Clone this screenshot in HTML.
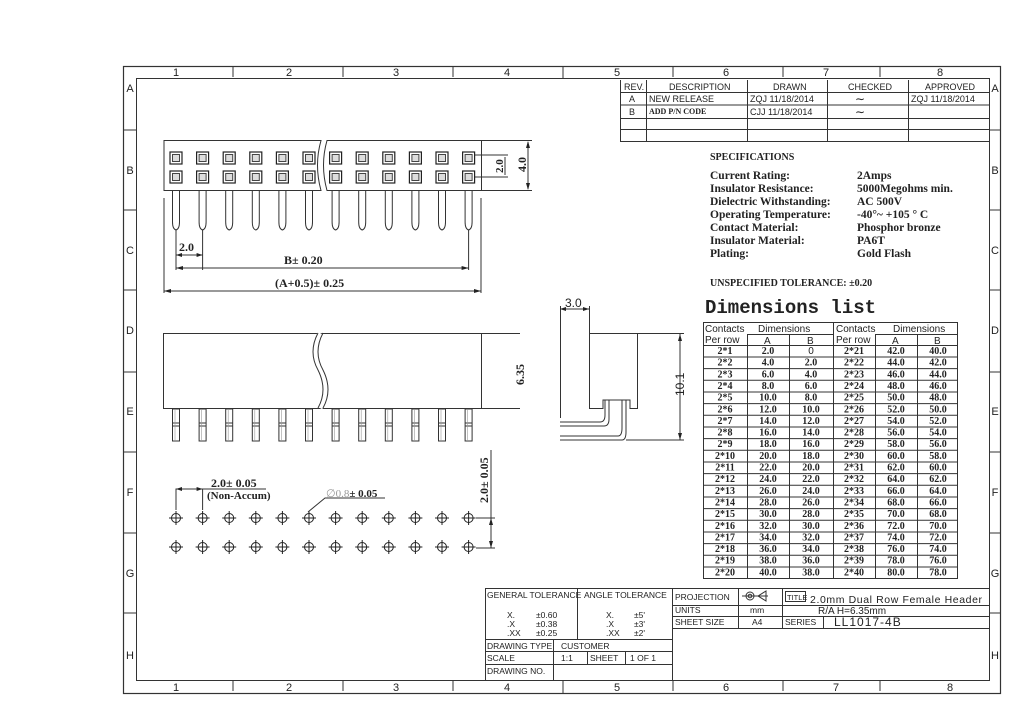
<!DOCTYPE html>
<html><head><meta charset="utf-8"><style>
html,body{margin:0;padding:0;background:#fff}
svg{display:block}
.s{font-family:"Liberation Sans",sans-serif}
.b{font-family:"Liberation Serif",serif;font-weight:bold}
.m{font-family:"Liberation Mono",monospace}
</style></head><body>
<svg width="1024" height="723" viewBox="0 0 1024 723" xmlns="http://www.w3.org/2000/svg">
<defs>
<g id="sq"><rect x="-6" y="-6" width="12" height="12" fill="#fff" stroke="#222" stroke-width="1.2"/><rect x="-3.5" y="-3.5" width="7" height="7" fill="#ddd" stroke="#444" stroke-width="1"/></g>
<path id="pin" d="M-3.5 0 V31 Q-3.5 38 0 39 Q3.5 38 3.5 31 V0" fill="none" stroke="#333" stroke-width="1"/>
<g id="pn"><rect x="-3.5" y="0" width="7" height="32" fill="#fff" stroke="#333" stroke-width="1"/><line x1="-3.5" y1="14" x2="3.5" y2="14" stroke="#333"/><line x1="-3.5" y1="17" x2="3.5" y2="17" stroke="#333"/><line x1="-1" y1="0" x2="-1" y2="32" stroke="#999" stroke-width=".6"/></g>
<g id="ho"><circle r="4.5" fill="none" stroke="#222" stroke-width="1"/><line x1="-7" y1="0" x2="7" y2="0" stroke="#222"/><line x1="0" y1="-7" x2="0" y2="7" stroke="#222"/></g>
</defs>
<g fill="none" stroke="#333" stroke-width="1">
<rect x="123.5" y="66.5" width="877" height="627" stroke-width="1.2"/>
<rect x="136.5" y="78.5" width="853" height="602"/>
<path d="M233 67v10M343 67v10M453 67v10M563 67v12M673 67v10M783 67v10M880 67v10M233 681v10M343 681v10M453 681v10M563 681v12M673 681v10M783 681v10M880 681v10"/>
<path d="M124 130h12M124 210h12M124 290h12M124 372h12M124 452h12M124 533h12M124 613h12M989 130h11M989 210h11M989 290h11M989 372h11M989 452h11M989 533h11M989 613h11"/>
</g>
<g class="s" font-size="11" fill="#222" text-anchor="middle">
<text x="176" y="76">1</text><text x="289" y="76">2</text><text x="396" y="76">3</text><text x="507" y="76">4</text><text x="617" y="76">5</text><text x="726" y="76">6</text><text x="826" y="76">7</text><text x="940" y="76">8</text>
<text x="176" y="691">1</text><text x="289" y="691">2</text><text x="396" y="691">3</text><text x="507" y="691">4</text><text x="617" y="691">5</text><text x="726" y="691">6</text><text x="836" y="691">7</text><text x="950" y="691">8</text>
<text x="130" y="92">A</text><text x="130" y="174">B</text><text x="130" y="254">C</text><text x="130" y="334">D</text><text x="130" y="415">E</text><text x="130" y="496">F</text><text x="130" y="577">G</text><text x="130" y="659">H</text>
<text x="995" y="92">A</text><text x="995" y="174">B</text><text x="995" y="254">C</text><text x="995" y="334">D</text><text x="995" y="415">E</text><text x="995" y="496">F</text><text x="995" y="577">G</text><text x="995" y="659">H</text>
</g>

<g stroke="#333" stroke-width="1" fill="none">
<path d="M164 140.5H321 Q314 165 321 190.5 H164Z" fill="#fff"/>
<path d="M327 140.5H481.5V190.5H327 Q320 165 327 140.5Z" fill="#fff"/>
<path d="M481 140.5H532M481 190.5H532M528 142v47M468 155h40M468 177h40M505 157v18"/>
<path d="M164 198v95M481 198v95M176 230v40M202.6 230v40M468.6 230v40"/>
<path d="M176 255h26.6M176 268h292.6M164 291h317"/>
</g>
<g fill="#222"><path d="M528 141l-2 7h4zM528 190l-2-7h4zM176 255l6-2v4zM202.6 255l-6-2v4zM176 268l7-2v4zM468.6 268l-7-2v4zM164 291l7-2v4zM481 291l-7-2v4z"/></g>
<g>
<use href="#sq" x="176" y="158"/><use href="#sq" x="202.6" y="158"/><use href="#sq" x="229.2" y="158"/><use href="#sq" x="255.8" y="158"/><use href="#sq" x="282.4" y="158"/><use href="#sq" x="309" y="158"/><use href="#sq" x="335.6" y="158"/><use href="#sq" x="362.2" y="158"/><use href="#sq" x="388.8" y="158"/><use href="#sq" x="415.4" y="158"/><use href="#sq" x="442" y="158"/><use href="#sq" x="468.6" y="158"/>
<use href="#sq" x="176" y="177"/><use href="#sq" x="202.6" y="177"/><use href="#sq" x="229.2" y="177"/><use href="#sq" x="255.8" y="177"/><use href="#sq" x="282.4" y="177"/><use href="#sq" x="309" y="177"/><use href="#sq" x="335.6" y="177"/><use href="#sq" x="362.2" y="177"/><use href="#sq" x="388.8" y="177"/><use href="#sq" x="415.4" y="177"/><use href="#sq" x="442" y="177"/><use href="#sq" x="468.6" y="177"/>
<use href="#pin" x="176" y="191"/><use href="#pin" x="202.6" y="191"/><use href="#pin" x="229.2" y="191"/><use href="#pin" x="255.8" y="191"/><use href="#pin" x="282.4" y="191"/><use href="#pin" x="309" y="191"/><use href="#pin" x="335.6" y="191"/><use href="#pin" x="362.2" y="191"/><use href="#pin" x="388.8" y="191"/><use href="#pin" x="415.4" y="191"/><use href="#pin" x="442" y="191"/><use href="#pin" x="468.6" y="191"/>
</g>
<g class="b" font-size="12" fill="#222">
<text x="179" y="251">2.0</text>
<text x="284" y="264">B± 0.20</text>
<text x="275" y="287">(A+0.5)± 0.25</text>
<text transform="translate(503,173) rotate(-90)" font-size="11">2.0</text>
<text transform="translate(526,172) rotate(-90)">4.0</text>
</g>

<g stroke="#333" stroke-width="1" fill="#fff">
<rect x="163.5" y="333.5" width="318" height="75"/>
<path d="M320 333 Q310 352 320 370 Q330 390 320 408" stroke="#fff" stroke-width="5"/>
<path d="M318 333 Q308 352 318 370 Q328 390 318 408M323 333 Q313 352 323 370 Q333 390 323 408" fill="none"/>
<path d="M481 333.5H520M481 408.5H520" fill="none"/>
<use href="#pn" x="176" y="409"/><use href="#pn" x="202.6" y="409"/><use href="#pn" x="229.2" y="409"/><use href="#pn" x="255.8" y="409"/><use href="#pn" x="282.4" y="409"/><use href="#pn" x="309" y="409"/><use href="#pn" x="335.6" y="409"/><use href="#pn" x="362.2" y="409"/><use href="#pn" x="388.8" y="409"/><use href="#pn" x="415.4" y="409"/><use href="#pn" x="442" y="409"/><use href="#pn" x="468.6" y="409"/>
</g>
<text class="b" font-size="12" fill="#222" transform="translate(524,385) rotate(-90)">6.35</text>

<g>
<use href="#ho" x="176" y="518"/><use href="#ho" x="202.6" y="518"/><use href="#ho" x="229.2" y="518"/><use href="#ho" x="255.8" y="518"/><use href="#ho" x="282.4" y="518"/><use href="#ho" x="309" y="518"/><use href="#ho" x="335.6" y="518"/><use href="#ho" x="362.2" y="518"/><use href="#ho" x="388.8" y="518"/><use href="#ho" x="415.4" y="518"/><use href="#ho" x="442" y="518"/><use href="#ho" x="468.6" y="518"/>
<use href="#ho" x="176" y="547"/><use href="#ho" x="202.6" y="547"/><use href="#ho" x="229.2" y="547"/><use href="#ho" x="255.8" y="547"/><use href="#ho" x="282.4" y="547"/><use href="#ho" x="309" y="547"/><use href="#ho" x="335.6" y="547"/><use href="#ho" x="362.2" y="547"/><use href="#ho" x="388.8" y="547"/><use href="#ho" x="415.4" y="547"/><use href="#ho" x="442" y="547"/><use href="#ho" x="468.6" y="547"/>
</g>
<g stroke="#333" stroke-width="1" fill="none">
<path d="M176 510V489H266M202.6 510V489M476 518H495M476 548H495M491 450V548M308 512L325 498H385"/>
</g>
<g fill="#222"><path d="M176 489l6-2v4zM202.6 489l-6-2v4zM491 518l-2 7h4zM491 548l-2-7h4z"/></g>
<g class="b" font-size="12" fill="#222">
<text x="211" y="487">2.0± 0.05</text>
<text x="207" y="499" font-size="11">(Non-Accum)</text>
<text x="326" y="497" font-size="11"><tspan fill="#999" font-weight="normal">∅0.8</tspan>± 0.05</text>
<text transform="translate(488,503) rotate(-90)">2.0± 0.05</text>
</g>

<g stroke="#333" stroke-width="1" fill="none">
<path d="M560.5 306V418M589.5 306V333M560 309H589"/>
<path d="M589.5 333.5H637.5V408.5H630V400H603V408.5H589.5Z"/>
<path d="M637 333.5H684M560 422H600Q605 422 605 415V400M560 426H604Q609 426 609 419V400M560 436H618Q622 436 622 428V400M560 440H622Q626 440 626 432V400M626 440H684M680 334V440"/>
</g>
<g fill="#222"><path d="M560 309l6-2v4zM589 309l-6-2v4zM680 334l-2 7h4zM680 440l-2-7h4z"/></g>
<text class="s" x="565" y="307" font-size="12" fill="#222">3.0</text>
<text class="s" font-size="12" fill="#222" transform="translate(684,396) rotate(-90)">10.1</text>

<g stroke="#333" stroke-width="1" fill="none">
<path d="M620.5 80V141.5H989M620 92.5H989M620 105H989M620 118.5H989M620 129.5H989M646.5 80V141M747.5 80V141M827.5 80V141M908.5 80V141"/>
</g>
<g class="s" font-size="9" fill="#222">
<text x="624" y="90">REV.</text><text x="669" y="90">DESCRIPTION</text><text x="773" y="90">DRAWN</text><text x="848" y="90">CHECKED</text><text x="925" y="90">APPROVED</text>
<text x="629" y="102">A</text><text x="649" y="102">NEW RELEASE</text><text x="750" y="102">ZQJ 11/18/2014</text><text x="855" y="103" font-size="12">∼</text><text x="911" y="102">ZQJ 11/18/2014</text>
<text x="629" y="115">B</text><text x="649" y="114" class="b" font-size="8">ADD P/N CODE</text><text x="750" y="115">CJJ 11/18/2014</text><text x="855" y="116" font-size="12">∼</text>
</g>

<g class="b" font-size="11.5" fill="#222">
<text x="710" y="160" font-size="10">SPECIFICATIONS</text>
<text x="710" y="179">Current Rating:</text><text x="857" y="179">2Amps</text>
<text x="710" y="192">Insulator Resistance:</text><text x="857" y="192">5000Megohms min.</text>
<text x="710" y="205">Dielectric Withstanding:</text><text x="857" y="205">AC 500V</text>
<text x="710" y="218">Operating Temperature:</text><text x="857" y="218">-40°~ +105 ° C</text>
<text x="710" y="231">Contact Material:</text><text x="857" y="231">Phosphor bronze</text>
<text x="710" y="244">Insulator Material:</text><text x="857" y="244">PA6T</text>
<text x="710" y="257">Plating:</text><text x="857" y="257">Gold Flash</text>
<text x="710" y="286" font-size="10">UNSPECIFIED TOLERANCE: ±0.20</text>
</g>
<text class="m" x="705" y="313" font-size="19" font-weight="bold" fill="#222">Dimensions list</text>

<g stroke="#333" fill="none" stroke-width="1">
<rect x="703.5" y="322.5" width="254" height="256"/>
<path d="M747.5 334V578M789.5 334V578M833.5 322V578M875.5 334V578M917.5 334V578M747 334.5H833M875 334.5H958M703 345.5H958"/>
<path d="M703 357H958M703 368.6H958M703 380.3H958M703 392H958M703 403.6H958M703 415.3H958M703 427H958M703 438.6H958M703 450.3H958M703 462H958M703 473.6H958M703 485.3H958M703 497H958M703 508.6H958M703 520.3H958M703 532H958M703 543.6H958M703 555.3H958M703 567H958"/>
</g>
<g class="s" font-size="10" fill="#222">
<text x="705" y="332">Contacts</text><text x="758" y="332">Dimensions</text><text x="836" y="332">Contacts</text><text x="893" y="332">Dimensions</text>
<text x="705" y="343">Per row</text><text x="836" y="343">Per row</text>
<text x="764" y="344">A</text><text x="807" y="344">B</text><text x="892" y="344">A</text><text x="934" y="344">B</text>
</g>
<g class="b" font-size="10" fill="#222" text-anchor="middle">
<g transform="translate(725,0)"><text y="354">2*1</text><text y="365.7">2*2</text><text y="377.3">2*3</text><text y="389">2*4</text><text y="400.6">2*5</text><text y="412.3">2*6</text><text y="423.9">2*7</text><text y="435.6">2*8</text><text y="447.2">2*9</text><text y="458.9">2*10</text><text y="470.5">2*11</text><text y="482.2">2*12</text><text y="493.8">2*13</text><text y="505.5">2*14</text><text y="517.1">2*15</text><text y="528.8">2*16</text><text y="540.4">2*17</text><text y="552.1">2*18</text><text y="563.7">2*19</text><text y="575.4">2*20</text></g>
<g transform="translate(768,0)"><text y="354">2.0</text><text y="365.7">4.0</text><text y="377.3">6.0</text><text y="389">8.0</text><text y="400.6">10.0</text><text y="412.3">12.0</text><text y="423.9">14.0</text><text y="435.6">16.0</text><text y="447.2">18.0</text><text y="458.9">20.0</text><text y="470.5">22.0</text><text y="482.2">24.0</text><text y="493.8">26.0</text><text y="505.5">28.0</text><text y="517.1">30.0</text><text y="528.8">32.0</text><text y="540.4">34.0</text><text y="552.1">36.0</text><text y="563.7">38.0</text><text y="575.4">40.0</text></g>
<g transform="translate(811,0)"><text y="354" font-weight="normal" class="s">0</text><text y="365.7">2.0</text><text y="377.3">4.0</text><text y="389">6.0</text><text y="400.6">8.0</text><text y="412.3">10.0</text><text y="423.9">12.0</text><text y="435.6">14.0</text><text y="447.2">16.0</text><text y="458.9">18.0</text><text y="470.5">20.0</text><text y="482.2">22.0</text><text y="493.8">24.0</text><text y="505.5">26.0</text><text y="517.1">28.0</text><text y="528.8">30.0</text><text y="540.4">32.0</text><text y="552.1">34.0</text><text y="563.7">36.0</text><text y="575.4">38.0</text></g>
<g transform="translate(854,0)"><text y="354">2*21</text><text y="365.7">2*22</text><text y="377.3">2*23</text><text y="389">2*24</text><text y="400.6">2*25</text><text y="412.3">2*26</text><text y="423.9">2*27</text><text y="435.6">2*28</text><text y="447.2">2*29</text><text y="458.9">2*30</text><text y="470.5">2*31</text><text y="482.2">2*32</text><text y="493.8">2*33</text><text y="505.5">2*34</text><text y="517.1">2*35</text><text y="528.8">2*36</text><text y="540.4">2*37</text><text y="552.1">2*38</text><text y="563.7">2*39</text><text y="575.4">2*40</text></g>
<g transform="translate(896,0)"><text y="354">42.0</text><text y="365.7">44.0</text><text y="377.3">46.0</text><text y="389">48.0</text><text y="400.6">50.0</text><text y="412.3">52.0</text><text y="423.9">54.0</text><text y="435.6">56.0</text><text y="447.2">58.0</text><text y="458.9">60.0</text><text y="470.5">62.0</text><text y="482.2">64.0</text><text y="493.8">66.0</text><text y="505.5">68.0</text><text y="517.1">70.0</text><text y="528.8">72.0</text><text y="540.4">74.0</text><text y="552.1">76.0</text><text y="563.7">78.0</text><text y="575.4">80.0</text></g>
<g transform="translate(938,0)"><text y="354">40.0</text><text y="365.7">42.0</text><text y="377.3">44.0</text><text y="389">46.0</text><text y="400.6">48.0</text><text y="412.3">50.0</text><text y="423.9">52.0</text><text y="435.6">54.0</text><text y="447.2">56.0</text><text y="458.9">58.0</text><text y="470.5">60.0</text><text y="482.2">62.0</text><text y="493.8">64.0</text><text y="505.5">66.0</text><text y="517.1">68.0</text><text y="528.8">70.0</text><text y="540.4">72.0</text><text y="552.1">74.0</text><text y="563.7">76.0</text><text y="575.4">78.0</text></g>
</g>

<g stroke="#333" stroke-width="1" fill="none">
<path d="M485.5 681V588.5H989M577.5 589V639M672.5 589V681M485 639.5H672M485 651.5H672M485 664.5H672M553.5 639V681M587.5 651V664M625.5 651V664M672 605.5H989M672 616.5H989M672 628.5H989M738.5 589V629M782.5 589V629M823.5 617V629"/>
<rect x="785.5" y="591.5" width="20" height="10"/>
</g>
<g class="s" font-size="8.5" fill="#222">
<text x="487" y="598">GENERAL TOLERANCE</text><text x="584" y="598">ANGLE TOLERANCE</text>
<text x="507" y="618">X.</text><text x="536" y="618">±0.60</text><text x="507" y="627">.X</text><text x="536" y="627">±0.38</text><text x="507" y="636">.XX</text><text x="536" y="636">±0.25</text>
<text x="606" y="618">X.</text><text x="634" y="618">±5'</text><text x="606" y="627">.X</text><text x="634" y="627">±3'</text><text x="606" y="636">.XX</text><text x="634" y="636">±2'</text>
<text x="487" y="649">DRAWING TYPE</text><text x="561" y="649">CUSTOMER</text>
<text x="487" y="661">SCALE</text><text x="561" y="661">1:1</text><text x="590" y="661">SHEET</text><text x="630" y="661">1 OF 1</text>
<text x="487" y="674">DRAWING NO.</text>
<text x="675" y="600">PROJECTION</text><text x="675" y="613">UNITS</text><text x="750" y="613">mm</text>
<text x="675" y="625">SHEET SIZE</text><text x="752" y="625">A4</text>
<text x="787" y="600" font-size="7.5">TITLE</text>
<text x="785" y="625">SERIES</text>
<text x="810" y="603" font-size="10.5" letter-spacing=".6">2.0mm Dual Row Female Header</text>
<text x="818" y="614" font-size="10">R/A H=6.35mm</text>
<text x="834" y="626" font-size="12" letter-spacing="1">LL1017-4B</text>
</g>
<g stroke="#333" fill="none" stroke-width="1"><circle cx="750" cy="596" r="4"/><circle cx="750" cy="596" r="1.8"/><path d="M742 596H768M758 596L766 591V601Z"/></g>
</svg>
</body></html>
